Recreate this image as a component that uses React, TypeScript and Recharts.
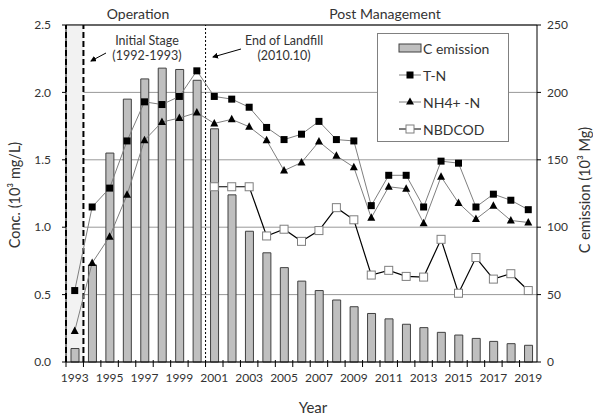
import React from 'react';
import {
  ComposedChart,
  Bar,
  Line,
  XAxis,
  YAxis,
  CartesianGrid,
  ReferenceArea,
  ReferenceLine,
  Legend,
} from 'recharts';

// years on the x axis
const years = [
  '1993', '1994', '1995', '1996', '1997', '1998', '1999', '2000', '2001', '2002',
  '2003', '2004', '2005', '2006', '2007', '2008', '2009', '2010', '2011', '2012',
  '2013', '2014', '2015', '2016', '2017', '2018', '2019',
];

// C emission (10^3 Mg), right axis
const cEmission = [
  10, 72, 155, 195, 210, 218, 217, 209, 173, 124,
  97, 81, 70, 60, 53, 46, 41, 36, 32, 28,
  25.5, 22, 20, 17.5, 15.3, 13.6, 12.4,
];

// concentrations (10^3 mg/L), left axis
const tN = [
  0.53, 1.15, 1.29, 1.64, 1.93, 1.91, 1.97, 2.16, 1.97, 1.95,
  1.89, 1.74, 1.65, 1.69, 1.785, 1.65, 1.64, 1.16, 1.385, 1.385,
  1.15, 1.49, 1.475, 1.15, 1.245, 1.2, 1.13,
];
const nh4N = [
  0.23, 0.735, 0.93, 1.24, 1.645, 1.78, 1.81, 1.85, 1.77, 1.8,
  1.745, 1.645, 1.42, 1.48, 1.635, 1.53, 1.445, 1.07, 1.3, 1.285,
  1.03, 1.375, 1.18, 1.06, 1.16, 1.05, 1.035,
];
const nbdcod = [
  null, null, null, null, null, null, null, null, 1.3, 1.3,
  1.3, 0.935, 0.985, 0.895, 0.975, 1.145, 1.055, 0.645, 0.68, 0.635,
  0.63, 0.91, 0.51, 0.775, 0.615, 0.655, 0.53,
];

const concTicks = [0, 0.5, 1.0, 1.5, 2.0, 2.5];
const emissionTicks = [0, 50, 100, 150, 200, 250];

const data = years.map((year, i) => ({
  year,
  cEmission: cEmission[i],
  tN: tN[i],
  nh4N: nh4N[i],
  nbdcod: nbdcod[i],
}));

const W = 593;
const H = 419;
const LEFT_W = 66;
const RIGHT_W = 56;
const PLOT_W = W - LEFT_W - RIGHT_W;
const step = PLOT_W / years.length;
const FONT = 'Lato, "Open Sans", sans-serif';
const TXT = '#333';

const YearTick = (props: any) => {
  const { x, y, payload } = props;
  const left = x - step / 2;
  const show = Number(payload.value) % 2 === 1;
  return (
    <g>
      <line x1={left} x2={left} y1={y - 2} y2={y + 5} stroke="#000" />
      {show && (
        <text x={x} y={y + 20} textAnchor="middle" fontSize={12} fill={TXT} fontFamily={FONT}>
          {payload.value}
        </text>
      )}
    </g>
  );
};

const okPoint = (p: any) => p.cx != null && p.cy != null && p.value != null;

const SquareDot = (p: any) =>
  okPoint(p) ? (
    <rect key={`sq-${p.index}`} x={p.cx - 3.5} y={p.cy - 3.5} width={7} height={7} fill="#000" />
  ) : (
    <g key={`sq-${p.index}`} />
  );

const TriangleDot = (p: any) =>
  okPoint(p) ? (
    <path
      key={`tr-${p.index}`}
      d={`M${p.cx},${p.cy - 4.5} L${p.cx + 4},${p.cy + 3} L${p.cx - 4},${p.cy + 3} Z`}
      fill="#000"
    />
  ) : (
    <g key={`tr-${p.index}`} />
  );

const OpenSquareDot = (p: any) =>
  okPoint(p) ? (
    <rect
      key={`os-${p.index}`}
      x={p.cx - 4}
      y={p.cy - 4}
      width={8}
      height={8}
      fill="#fff"
      stroke="#7f7f7f"
    />
  ) : (
    <g key={`os-${p.index}`} />
  );

const legendRows = [
  { name: 'C emission', kind: 'bar' },
  { name: 'T-N', kind: 'square' },
  { name: 'NH4+ -N', kind: 'triangle' },
  { name: 'NBDCOD', kind: 'open' },
];

const LegendIcon = ({ kind }: { kind: string }) => (
  <svg width={24} height={12} style={{ display: 'block' }}>
    {kind === 'bar' ? (
      <rect x={1} y={2} width={22} height={8} fill="#bfbfbf" stroke="#404040" />
    ) : (
      <>
        <line x1={1} x2={23} y1={6} y2={6} stroke={kind === 'open' ? '#000' : '#7f7f7f'} />
        {kind === 'square' && <rect x={8.5} y={2.5} width={7} height={7} fill="#000" />}
        {kind === 'triangle' && <path d="M12,1.5 L16,8.5 L8,8.5 Z" fill="#000" />}
        {kind === 'open' && <rect x={8} y={2} width={8} height={8} fill="#fff" stroke="#7f7f7f" />}
      </>
    )}
  </svg>
);

const LegendBox = () => (
  <div
    style={{
      position: 'relative',
      width: 132,
      height: 109,
      boxSizing: 'border-box',
      border: '1px solid #808080',
      background: '#fff',
      fontFamily: FONT,
      fontSize: 14,
      color: TXT,
    }}
  >
    {legendRows.map((row, i) => (
      <div
        key={row.name}
        style={{
          position: 'absolute',
          left: 20,
          top: 14 + i * 27 - 8,
          height: 16,
          display: 'flex',
          alignItems: 'center',
          whiteSpace: 'nowrap',
        }}
      >
        <LegendIcon kind={row.kind} />
        <span style={{ marginLeft: 1 }}>{row.name}</span>
      </div>
    ))}
  </div>
);

export default function App() {
  return (
    <div style={{ position: 'relative', width: W, height: H, background: '#fff' }}>
      <style>{'body{margin:0}'}</style>
      <ComposedChart
        width={W}
        height={H}
        data={data}
        margin={{ top: 25, right: 0, bottom: 27, left: 0 }}
        style={{ fontFamily: FONT }}
      >
        <CartesianGrid vertical={false} stroke="#999" yAxisId="conc" />
        <ReferenceArea
          yAxisId="conc"
          x1="1993"
          x2="1993"
          y1={0}
          y2={2.5}
          fill="#f2f2f2"
          fillOpacity={1}
          stroke="none"
        />
        <XAxis
          dataKey="year"
          height={30}
          interval={0}
          tickLine={false}
          tickSize={0}
          tickMargin={0}
          axisLine={{ stroke: '#000' }}
          tick={<YearTick />}
        />
        <YAxis
          yAxisId="conc"
          width={LEFT_W}
          domain={[0, 2.5]}
          ticks={concTicks}
          tickFormatter={(v: number) => v.toFixed(1)}
          tickSize={4}
          tickMargin={11}
          axisLine={{ stroke: '#000' }}
          tickLine={{ stroke: '#000' }}
          tick={{ fontSize: 12, fill: TXT, fontFamily: FONT }}
        />
        <YAxis
          yAxisId="em"
          orientation="right"
          width={RIGHT_W}
          domain={[0, 250]}
          ticks={emissionTicks}
          tickSize={4}
          tickMargin={6}
          axisLine={{ stroke: '#000' }}
          tickLine={{ stroke: '#000' }}
          tick={{ fontSize: 12, fill: TXT, fontFamily: FONT, textAnchor: 'start' }}
        />
        <ReferenceLine yAxisId="conc" y={2.5} stroke="#000" />
        <Bar
          yAxisId="em"
          dataKey="cEmission"
          name="C emission"
          barSize={8}
          fill="#bfbfbf"
          stroke="#404040"
          strokeWidth={1}
          isAnimationActive={false}
        />
        <ReferenceLine
          yAxisId="conc"
          x="1993"
          position="start"
          stroke="#000"
          strokeWidth={2}
          strokeDasharray="6 3"
        />
        <ReferenceLine
          yAxisId="conc"
          x="1993"
          position="end"
          stroke="#000"
          strokeWidth={2}
          strokeDasharray="6 3"
        />
        <ReferenceLine
          yAxisId="conc"
          x="2001"
          position="start"
          stroke="#000"
          strokeDasharray="2 2"
        />
        <Line
          yAxisId="conc"
          dataKey="tN"
          name="T-N"
          stroke="#7f7f7f"
          strokeWidth={1}
          dot={SquareDot}
          activeDot={false}
          isAnimationActive={false}
        />
        <Line
          yAxisId="conc"
          dataKey="nh4N"
          name="NH4+ -N"
          stroke="#7f7f7f"
          strokeWidth={1}
          dot={TriangleDot}
          activeDot={false}
          isAnimationActive={false}
        />
        <Line
          yAxisId="conc"
          dataKey="nbdcod"
          name="NBDCOD"
          stroke="#000"
          strokeWidth={1.2}
          dot={OpenSquareDot}
          activeDot={false}
          isAnimationActive={false}
        />
        <Legend
          layout="vertical"
          align="center"
          verticalAlign="middle"
          content={<LegendBox />}
          wrapperStyle={{ left: 377, top: 33, width: 132, height: 109 }}
        />
      </ComposedChart>
      <svg
        width={W}
        height={H}
        style={{ position: 'absolute', left: 0, top: 0, pointerEvents: 'none' }}
        fontFamily={FONT}
        fill={TXT}
      >
        <defs>
          <marker id="arr" markerWidth="6" markerHeight="6" refX="5" refY="3" orient="auto">
            <path d="M0,0 L6,3 L0,6 Z" fill="#000" />
          </marker>
        </defs>
        <text x={138} y={19} textAnchor="middle" fontSize={14}>Operation</text>
        <text x={385} y={19} textAnchor="middle" fontSize={14}>Post Management</text>
        <text x={147} y={45} textAnchor="middle" fontSize={12.5}>Initial Stage</text>
        <text x={147} y={60} textAnchor="middle" fontSize={12.5}>(1992-1993)</text>
        <text x={284} y={45} textAnchor="middle" fontSize={12.5}>End of Landfill</text>
        <text x={284} y={60} textAnchor="middle" fontSize={12.5}>(2010.10)</text>
        <line x1={106} y1={53} x2={91} y2={61} stroke="#000" markerEnd="url(#arr)" />
        <line x1={241} y1={49} x2={213} y2={57} stroke="#000" markerEnd="url(#arr)" />
        <text x={313} y={413} textAnchor="middle" fontSize={15}>Year</text>
        <text x={20} y={195} textAnchor="middle" fontSize={14.5} transform="rotate(-90 20 195)">
          Conc. (10³ mg/L)
        </text>
        <text x={590} y={190} textAnchor="middle" fontSize={14.5} transform="rotate(-90 590 190)">
          C emission (10³ Mg)
        </text>
      </svg>
    </div>
  );
}
